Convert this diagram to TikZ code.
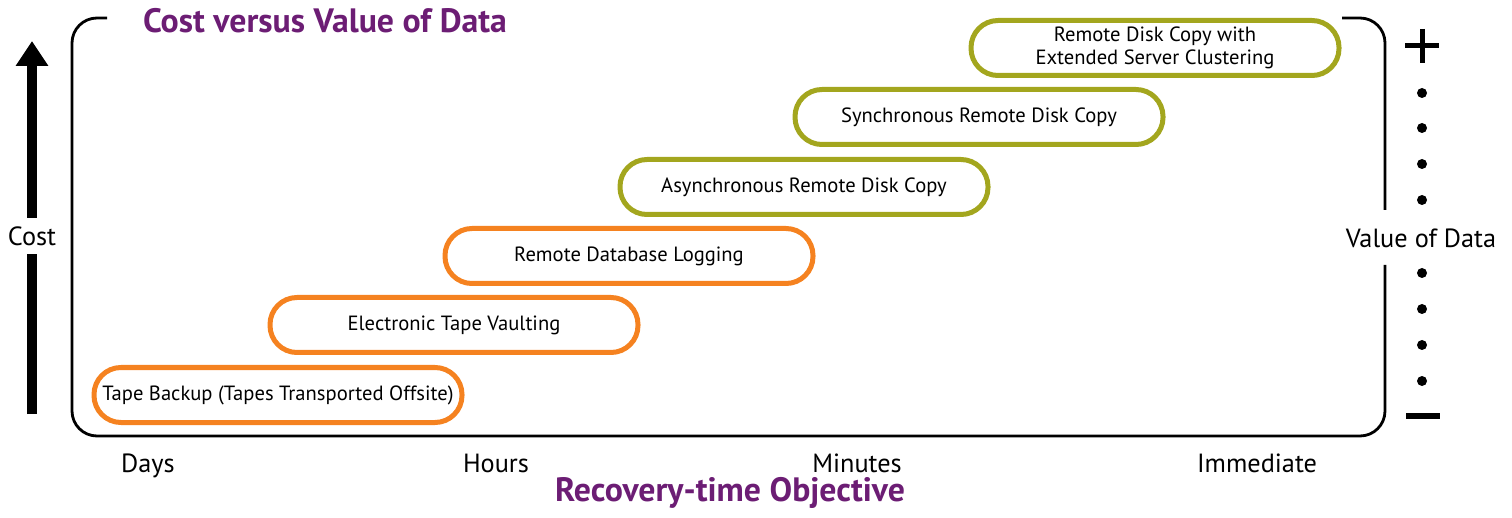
\documentclass[tikz,border=0pt]{standalone}
\usepackage{fontspec}
\setmainfont{PT Sans}
\usetikzlibrary{arrows.meta}

\definecolor{rtoorange}{HTML}{F58220}
\definecolor{rtogreen}{HTML}{A3A61E}
\definecolor{rtopurple}{HTML}{6C1D74}

\tikzset{
  tier/.style={draw, line width=5pt, rounded corners=27pt, minimum width=368pt,
    minimum height=55pt, inner xsep=2pt, align=center,
    font=\fontsize{20.6}{23}\selectfont},
  lowtier/.style={tier, draw=rtoorange},
  hightier/.style={tier, draw=rtogreen},
  axislabel/.style={font=\fontsize{26.3}{30}\selectfont},
  heading/.style={font=\fontsize{33.8}{38}\selectfont\bfseries, text=rtopurple},
  frame/.style={line width=2.8pt, rounded corners=25pt},
}

\begin{document}
\begin{tikzpicture}[x=1pt,y=-1pt]
\useasboundingbox (0,0) rectangle (1512,518);

% outer frame
\draw[frame] (107,18) -- (72,18) -- (72,436) -- (1385,436) -- (1385,265);
\draw[frame] (1385,210) -- (1385,18) -- (1342,18);

% recovery tiers
\node[lowtier]  (tape)    at ( 278,395) {Tape Backup (Tapes Transported Offsite)};
\node[lowtier]  (vault)   at ( 454,325) {Electronic Tape Vaulting};
\node[lowtier]  (dblog)   at ( 629,256) {Remote Database Logging};
\node[hightier] (async)   at ( 804,187) {Asynchronous Remote Disk Copy};
\node[hightier] (sync)    at ( 979,117) {Synchronous Remote Disk Copy};
\node[hightier] (cluster) at (1155, 48) {Remote Disk Copy with\\Extended Server Clustering};

% titles
\node[heading,anchor=base] (title) at (325,33)  {Cost versus Value of Data};
\node[heading,anchor=base] (rto)   at (730,501) {Recovery-time Objective};

% time axis
\node[axislabel,anchor=base] (days) at ( 148,472) {Days};
\node[axislabel,anchor=base] (hrs)  at ( 496,472) {Hours};
\node[axislabel,anchor=base] (mins) at ( 857,472) {Minutes};
\node[axislabel,anchor=base] (imm)  at (1257,472) {Immediate};

% cost axis
\coordinate (costlow)  at (32,414);
\coordinate (costhigh) at (32,41);
\node[axislabel,minimum height=36pt,inner sep=0pt] (cost) at (32,236) {Cost};
\draw[line width=9.5pt] (costlow) -- (cost.south);
\draw[line width=9.5pt,-{Triangle[width=31pt,length=25pt]}] (cost.north) -- (costhigh);

% value axis
\node[axislabel,minimum height=55pt,inner sep=0pt] (val) at (1421,238) {Value of Data};
\draw[line width=5pt] (1405,46) -- (1439,46) (1422,29) -- (1422,63);
\foreach \y in {93,128,164,200,273,309,345,381} \fill (1422,\y) circle (5);
\draw[line width=6pt] (1406,416) -- (1440,416);
\end{tikzpicture}
\end{document}
